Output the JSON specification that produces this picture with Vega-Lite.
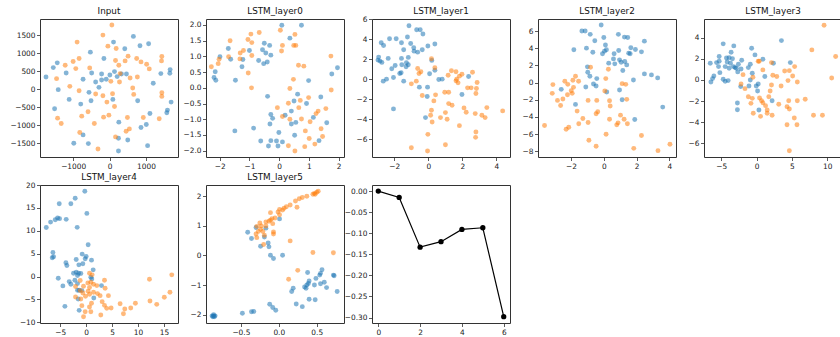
{
"$schema": "https://vega.github.io/schema/vega-lite/v6.json",
"background": "white",
"padding": {"left": 9, "top": 6, "right": 5, "bottom": 5},
"bounds": "flush",
"columns": 5,
"spacing": {"row": 28, "column": 28},
"config": {
  "view": {"stroke": "#333", "strokeWidth": 1, "continuousWidth": 138, "continuousHeight": 138},
  "axis": {"grid": false, "domain": false, "tickColor": "#333", "tickSize": 3.5, "tickWidth": 0.8, "labelFont": "DejaVu Sans", "labelFontSize": 7.4, "labelColor": "#222", "labelPadding": 1.5, "title": null, "labelFlush": false, "labelOverlap": false},
  "title": {"font": "DejaVu Sans", "fontSize": 8.8, "fontWeight": "normal", "color": "#111", "offset": 3, "frame": "group"},
  "circle": {"size": 24, "opacity": 0.55}
},
"datasets": {
"input": [
{"x":655,"y":1471,"c":"b"},{"x":109,"y":1313,"c":"b"},{"x":1073,"y":1266,"c":"b"},{"x":836,"y":1210,"c":"b"},{"x":418,"y":1127,"c":"b"},{"x":-527,"y":1034,"c":"b"},{"x":-155,"y":857,"c":"b"},{"x":-1436,"y":736,"c":"b"},{"x":-1545,"y":605,"c":"b"},{"x":-1191,"y":456,"c":"b"},{"x":-491,"y":456,"c":"b"},{"x":-218,"y":428,"c":"b"},{"x":136,"y":493,"c":"b"},{"x":9,"y":400,"c":"b"},{"x":209,"y":354,"c":"b"},{"x":327,"y":428,"c":"b"},{"x":464,"y":428,"c":"b"},{"x":1409,"y":438,"c":"b"},{"x":1664,"y":549,"c":"b"},{"x":1655,"y":447,"c":"b"},{"x":-1745,"y":345,"c":"b"},{"x":-727,"y":279,"c":"b"},{"x":-382,"y":205,"c":"b"},{"x":-218,"y":261,"c":"b"},{"x":-91,"y":279,"c":"b"},{"x":-291,"y":56,"c":"b"},{"x":1200,"y":168,"c":"b"},{"x":-1409,"y":-9,"c":"b"},{"x":-564,"y":-84,"c":"b"},{"x":-1109,"y":-279,"c":"b"},{"x":-509,"y":-317,"c":"b"},{"x":91,"y":-279,"c":"b"},{"x":773,"y":-317,"c":"b"},{"x":1691,"y":-354,"c":"b"},{"x":-791,"y":-410,"c":"b"},{"x":-1509,"y":-540,"c":"b"},{"x":1591,"y":-577,"c":"b"},{"x":1573,"y":-652,"c":"b"},{"x":1109,"y":-670,"c":"b"},{"x":255,"y":-912,"c":"b"},{"x":1009,"y":-978,"c":"b"},{"x":864,"y":-1061,"c":"b"},{"x":-727,"y":-1266,"c":"b"},{"x":245,"y":-1359,"c":"b"},{"x":500,"y":-1406,"c":"b"},{"x":-982,"y":-1499,"c":"b"},{"x":-582,"y":-1508,"c":"b"},{"x":1045,"y":-1564,"c":"b"},{"x":245,"y":-1713,"c":"b"},
{"x":64,"y":1788,"c":"o"},{"x":-182,"y":1508,"c":"o"},{"x":-891,"y":1313,"c":"o"},{"x":-45,"y":1201,"c":"o"},{"x":182,"y":1136,"c":"o"},{"x":509,"y":922,"c":"o"},{"x":-836,"y":857,"c":"o"},{"x":-1000,"y":773,"c":"o"},{"x":-1218,"y":670,"c":"o"},{"x":164,"y":801,"c":"o"},{"x":427,"y":791,"c":"o"},{"x":745,"y":857,"c":"o"},{"x":864,"y":763,"c":"o"},{"x":1018,"y":698,"c":"o"},{"x":1091,"y":568,"c":"o"},{"x":1436,"y":912,"c":"o"},{"x":1427,"y":791,"c":"o"},{"x":-927,"y":577,"c":"o"},{"x":-545,"y":596,"c":"o"},{"x":255,"y":670,"c":"o"},{"x":291,"y":438,"c":"o"},{"x":564,"y":317,"c":"o"},{"x":764,"y":345,"c":"o"},{"x":-1455,"y":298,"c":"o"},{"x":36,"y":223,"c":"o"},{"x":273,"y":205,"c":"o"},{"x":-1091,"y":84,"c":"o"},{"x":-836,"y":-37,"c":"o"},{"x":636,"y":37,"c":"o"},{"x":664,"y":-140,"c":"o"},{"x":82,"y":-121,"c":"o"},{"x":-182,"y":-177,"c":"o"},{"x":-382,"y":-130,"c":"o"},{"x":1436,"y":-93,"c":"o"},{"x":1436,"y":-196,"c":"o"},{"x":-73,"y":-354,"c":"o"},{"x":136,"y":-475,"c":"o"},{"x":-591,"y":-624,"c":"o"},{"x":-764,"y":-745,"c":"o"},{"x":-164,"y":-773,"c":"o"},{"x":-18,"y":-717,"c":"o"},{"x":491,"y":-782,"c":"o"},{"x":927,"y":-782,"c":"o"},{"x":1364,"y":-819,"c":"o"},{"x":-1427,"y":-801,"c":"o"},{"x":-1327,"y":-950,"c":"o"},{"x":-418,"y":-950,"c":"o"},{"x":545,"y":-1099,"c":"o"},{"x":455,"y":-1164,"c":"o"},{"x":-818,"y":-1201,"c":"o"},{"x":164,"y":-1322,"c":"o"},{"x":-318,"y":-1657,"c":"o"}
],
"l0": [
{"x":0.09,"y":1.99,"c":"b"},{"x":0.75,"y":1.99,"c":"b"},{"x":0.36,"y":1.58,"c":"b"},{"x":-0.5,"y":1.42,"c":"b"},{"x":-0.32,"y":1.35,"c":"b"},{"x":-1.71,"y":1.25,"c":"b"},{"x":-1.0,"y":1.19,"c":"b"},{"x":-0.56,"y":1.21,"c":"b"},{"x":-0.45,"y":1.11,"c":"b"},{"x":-1.99,"y":0.99,"c":"b"},{"x":-1.63,"y":0.91,"c":"b"},{"x":-1.22,"y":0.9,"c":"b"},{"x":-0.28,"y":1.04,"c":"b"},{"x":-0.69,"y":0.87,"c":"b"},{"x":-0.4,"y":0.82,"c":"b"},{"x":-0.52,"y":0.77,"c":"b"},{"x":-1.25,"y":0.67,"c":"b"},{"x":-2.15,"y":0.51,"c":"b"},{"x":-2.19,"y":0.33,"c":"b"},{"x":-2.13,"y":0.24,"c":"b"},{"x":-1.47,"y":0.24,"c":"b"},{"x":1.96,"y":0.64,"c":"b"},{"x":1.77,"y":0.44,"c":"b"},{"x":0.99,"y":0.23,"c":"b"},{"x":-0.39,"y":-0.27,"c":"b"},{"x":0.62,"y":-0.2,"c":"b"},{"x":0.5,"y":-0.42,"c":"b"},{"x":1.4,"y":-0.29,"c":"b"},{"x":0.92,"y":-0.5,"c":"b"},{"x":0.41,"y":-0.74,"c":"b"},{"x":-0.28,"y":-0.85,"c":"b"},{"x":-0.22,"y":-0.97,"c":"b"},{"x":0.2,"y":-0.87,"c":"b"},{"x":1.15,"y":-0.94,"c":"b"},{"x":0.56,"y":-1.1,"c":"b"},{"x":0.41,"y":-1.15,"c":"b"},{"x":-0.31,"y":-1.15,"c":"b"},{"x":1.6,"y":-1.11,"c":"b"},{"x":-0.86,"y":-1.28,"c":"b"},{"x":-1.49,"y":-1.37,"c":"b"},{"x":-0.01,"y":-1.42,"c":"b"},{"x":0.52,"y":-1.51,"c":"b"},{"x":-0.62,"y":-1.69,"c":"b"},{"x":-0.28,"y":-1.68,"c":"b"},{"x":-0.09,"y":-1.69,"c":"b"},{"x":0.11,"y":-1.72,"c":"b"},{"x":1.34,"y":-1.68,"c":"b"},{"x":-0.36,"y":-1.85,"c":"b"},{"x":-0.04,"y":-1.85,"c":"b"},
{"x":0.04,"y":1.83,"c":"o"},{"x":-0.67,"y":1.76,"c":"o"},{"x":-0.95,"y":1.71,"c":"o"},{"x":0.53,"y":1.7,"c":"o"},{"x":-1.05,"y":1.54,"c":"o"},{"x":-0.92,"y":1.44,"c":"o"},{"x":-1.65,"y":1.5,"c":"o"},{"x":0.11,"y":1.35,"c":"o"},{"x":0.49,"y":1.35,"c":"o"},{"x":0.56,"y":1.35,"c":"o"},{"x":0.08,"y":1.17,"c":"o"},{"x":-1.2,"y":1.19,"c":"o"},{"x":-1.31,"y":1.11,"c":"o"},{"x":-0.92,"y":1.03,"c":"o"},{"x":-1.7,"y":0.99,"c":"o"},{"x":-1.32,"y":0.92,"c":"o"},{"x":-2.02,"y":0.91,"c":"o"},{"x":-2.05,"y":0.77,"c":"o"},{"x":-2.28,"y":0.67,"c":"o"},{"x":1.74,"y":1.01,"c":"o"},{"x":0.65,"y":0.72,"c":"o"},{"x":0.83,"y":0.69,"c":"o"},{"x":-1.04,"y":0.47,"c":"o"},{"x":0.48,"y":0.27,"c":"o"},{"x":-0.93,"y":0.0,"c":"o"},{"x":1.75,"y":-0.07,"c":"o"},{"x":0.36,"y":-0.02,"c":"o"},{"x":0.71,"y":-0.4,"c":"o"},{"x":0.99,"y":-0.31,"c":"o"},{"x":0.31,"y":-0.49,"c":"o"},{"x":-0.06,"y":-0.63,"c":"o"},{"x":0.66,"y":-0.63,"c":"o"},{"x":1.57,"y":-0.66,"c":"o"},{"x":1.31,"y":-0.74,"c":"o"},{"x":1.24,"y":-0.82,"c":"o"},{"x":0.11,"y":-0.91,"c":"o"},{"x":0.36,"y":-1.0,"c":"o"},{"x":0.75,"y":-0.99,"c":"o"},{"x":1.04,"y":-1.08,"c":"o"},{"x":1.41,"y":-1.3,"c":"o"},{"x":0.88,"y":-1.37,"c":"o"},{"x":1.01,"y":-1.61,"c":"o"},{"x":1.46,"y":-1.55,"c":"o"},{"x":1.2,"y":-1.79,"c":"o"},{"x":0.31,"y":-1.84,"c":"o"},{"x":0.86,"y":-1.87,"c":"o"},{"x":0.53,"y":-2.01,"c":"o"}
],
"l1": [
{"x":-1.13,"y":5.36,"c":"b"},{"x":-0.68,"y":4.96,"c":"b"},{"x":-0.47,"y":4.96,"c":"b"},{"x":-0.31,"y":4.52,"c":"b"},{"x":-2.27,"y":4.05,"c":"b"},{"x":-1.88,"y":4.05,"c":"b"},{"x":-1.22,"y":4.22,"c":"b"},{"x":-2.76,"y":3.65,"c":"b"},{"x":-2.62,"y":3.38,"c":"b"},{"x":-1.57,"y":3.65,"c":"b"},{"x":-1.03,"y":3.58,"c":"b"},{"x":-0.02,"y":3.32,"c":"b"},{"x":0.39,"y":3.52,"c":"b"},{"x":-1.44,"y":2.95,"c":"b"},{"x":-0.85,"y":3.15,"c":"b"},{"x":-0.83,"y":2.81,"c":"b"},{"x":-0.62,"y":2.71,"c":"b"},{"x":-0.35,"y":2.95,"c":"b"},{"x":-2.91,"y":2.21,"c":"b"},{"x":-2.95,"y":1.91,"c":"b"},{"x":-2.83,"y":1.81,"c":"b"},{"x":-2.72,"y":1.68,"c":"b"},{"x":-2.35,"y":2.08,"c":"b"},{"x":-1.57,"y":2.08,"c":"b"},{"x":-1.17,"y":2.18,"c":"b"},{"x":-1.28,"y":1.64,"c":"b"},{"x":-1.17,"y":1.44,"c":"b"},{"x":-1.3,"y":1.24,"c":"b"},{"x":-1.94,"y":1.37,"c":"b"},{"x":-2.14,"y":1.04,"c":"b"},{"x":-1.55,"y":1.44,"c":"b"},{"x":-1.67,"y":0.57,"c":"b"},{"x":-1.59,"y":0.64,"c":"b"},{"x":-2.04,"y":0.17,"c":"b"},{"x":-2.45,"y":0.0,"c":"b"},{"x":-2.64,"y":-0.2,"c":"b"},{"x":-1.44,"y":-0.2,"c":"b"},{"x":0.21,"y":1.88,"c":"b"},{"x":0.08,"y":0.54,"c":"b"},{"x":0.39,"y":0.9,"c":"b"},{"x":0.62,"y":-0.03,"c":"b"},{"x":0.82,"y":0.0,"c":"b"},{"x":2.37,"y":0.27,"c":"b"},{"x":-0.52,"y":-0.8,"c":"b"},{"x":-0.04,"y":-0.8,"c":"b"},{"x":-0.06,"y":-1.74,"c":"b"},{"x":1.98,"y":-1.54,"c":"b"},{"x":-2.04,"y":-2.98,"c":"b"},{"x":-0.16,"y":-3.85,"c":"b"},
{"x":0.19,"y":2.04,"c":"o"},{"x":0.39,"y":1.14,"c":"o"},{"x":-0.62,"y":1.07,"c":"o"},{"x":-0.43,"y":0.74,"c":"o"},{"x":-0.54,"y":0.57,"c":"o"},{"x":1.36,"y":0.84,"c":"o"},{"x":1.63,"y":0.74,"c":"o"},{"x":2.6,"y":0.7,"c":"o"},{"x":1.98,"y":0.5,"c":"o"},{"x":1.83,"y":0.3,"c":"o"},{"x":1.17,"y":0.4,"c":"o"},{"x":1.67,"y":0.0,"c":"o"},{"x":1.63,"y":-0.17,"c":"o"},{"x":1.75,"y":-0.37,"c":"o"},{"x":-0.7,"y":-0.2,"c":"o"},{"x":-0.99,"y":-0.47,"c":"o"},{"x":2.87,"y":-0.34,"c":"o"},{"x":2.31,"y":-0.87,"c":"o"},{"x":2.52,"y":-0.87,"c":"o"},{"x":2.83,"y":-0.94,"c":"o"},{"x":2.8,"y":-1.44,"c":"o"},{"x":0.97,"y":-1.31,"c":"o"},{"x":1.2,"y":-1.31,"c":"o"},{"x":0.43,"y":-1.57,"c":"o"},{"x":-0.35,"y":-1.64,"c":"o"},{"x":0.33,"y":-2.18,"c":"o"},{"x":1.2,"y":-2.45,"c":"o"},{"x":1.4,"y":-2.61,"c":"o"},{"x":2.1,"y":-2.88,"c":"o"},{"x":2.23,"y":-3.32,"c":"o"},{"x":0.19,"y":-3.12,"c":"o"},{"x":0.14,"y":-3.62,"c":"o"},{"x":0.23,"y":-4.29,"c":"o"},{"x":0.72,"y":-3.85,"c":"o"},{"x":1.01,"y":-3.35,"c":"o"},{"x":1.11,"y":-4.02,"c":"o"},{"x":2.76,"y":-3.45,"c":"o"},{"x":3.15,"y":-3.62,"c":"o"},{"x":3.34,"y":-3.85,"c":"o"},{"x":3.44,"y":-2.85,"c":"o"},{"x":4.37,"y":-3.18,"c":"o"},{"x":1.83,"y":-4.66,"c":"o"},{"x":2.8,"y":-5.29,"c":"o"},{"x":2.78,"y":-5.83,"c":"o"},{"x":-0.02,"y":-5.53,"c":"o"},{"x":-0.99,"y":-6.87,"c":"o"},{"x":1.01,"y":-6.57,"c":"o"},{"x":-0.04,"y":-7.2,"c":"o"}
],
"l2": [
{"x":-0.16,"y":6.72,"c":"b"},{"x":-1.34,"y":6.02,"c":"b"},{"x":-1.14,"y":6.02,"c":"b"},{"x":-0.83,"y":5.63,"c":"b"},{"x":0.89,"y":5.63,"c":"b"},{"x":0.0,"y":5.27,"c":"b"},{"x":1.26,"y":5.31,"c":"b"},{"x":1.46,"y":5.27,"c":"b"},{"x":-0.55,"y":4.88,"c":"b"},{"x":2.48,"y":4.84,"c":"b"},{"x":-1.06,"y":4.02,"c":"b"},{"x":-1.83,"y":3.83,"c":"b"},{"x":0.1,"y":4.38,"c":"b"},{"x":0.16,"y":3.83,"c":"b"},{"x":0.04,"y":3.67,"c":"b"},{"x":-0.08,"y":3.36,"c":"b"},{"x":-0.67,"y":3.55,"c":"b"},{"x":0.91,"y":3.75,"c":"b"},{"x":1.65,"y":4.06,"c":"b"},{"x":1.93,"y":3.87,"c":"b"},{"x":1.52,"y":3.44,"c":"b"},{"x":1.61,"y":3.36,"c":"b"},{"x":2.3,"y":3.59,"c":"b"},{"x":0.63,"y":3.36,"c":"b"},{"x":0.59,"y":2.77,"c":"b"},{"x":0.3,"y":2.27,"c":"b"},{"x":0.67,"y":2.19,"c":"b"},{"x":0.96,"y":2.66,"c":"b"},{"x":1.06,"y":2.38,"c":"b"},{"x":1.28,"y":2.46,"c":"b"},{"x":1.4,"y":2.07,"c":"b"},{"x":1.16,"y":1.41,"c":"b"},{"x":-1.0,"y":1.84,"c":"b"},{"x":-0.98,"y":1.21,"c":"b"},{"x":1.81,"y":0.31,"c":"b"},{"x":2.48,"y":1.02,"c":"b"},{"x":2.91,"y":0.9,"c":"b"},{"x":3.29,"y":0.55,"c":"b"},{"x":-0.43,"y":0.47,"c":"b"},{"x":-0.85,"y":0.74,"c":"b"},{"x":-0.63,"y":-0.16,"c":"b"},{"x":-0.47,"y":-0.39,"c":"b"},{"x":-1.1,"y":-0.51,"c":"b"},{"x":-2.6,"y":-0.78,"c":"b"},{"x":0.18,"y":-1.09,"c":"b"},{"x":0.96,"y":-0.86,"c":"b"},{"x":1.12,"y":-1.99,"c":"b"},{"x":-1.73,"y":-2.54,"c":"b"},{"x":3.6,"y":-2.85,"c":"b"},{"x":1.89,"y":-4.3,"c":"b"},
{"x":0.28,"y":1.56,"c":"o"},{"x":-0.81,"y":1.8,"c":"o"},{"x":-1.73,"y":0.74,"c":"o"},{"x":-1.89,"y":0.27,"c":"o"},{"x":-1.54,"y":0.16,"c":"o"},{"x":-2.38,"y":0.16,"c":"o"},{"x":-2.2,"y":-0.2,"c":"o"},{"x":-3.11,"y":-0.23,"c":"o"},{"x":-1.85,"y":-0.55,"c":"o"},{"x":-1.99,"y":-0.94,"c":"o"},{"x":-1.93,"y":-1.25,"c":"o"},{"x":-2.22,"y":-1.41,"c":"o"},{"x":-3.15,"y":-1.25,"c":"o"},{"x":-2.5,"y":-1.91,"c":"o"},{"x":-2.83,"y":-2.07,"c":"o"},{"x":-2.64,"y":-2.66,"c":"o"},{"x":0.12,"y":0.47,"c":"o"},{"x":1.12,"y":-0.12,"c":"o"},{"x":1.34,"y":-0.2,"c":"o"},{"x":0.06,"y":-0.98,"c":"o"},{"x":-0.96,"y":-2.07,"c":"o"},{"x":-0.43,"y":-2.07,"c":"o"},{"x":0.35,"y":-2.11,"c":"o"},{"x":0.39,"y":-2.73,"c":"o"},{"x":1.4,"y":-1.95,"c":"o"},{"x":-1.63,"y":-3.32,"c":"o"},{"x":-0.37,"y":-3.4,"c":"o"},{"x":-0.47,"y":-3.63,"c":"o"},{"x":-1.28,"y":-4.18,"c":"o"},{"x":0.35,"y":-4.26,"c":"o"},{"x":-1.53,"y":-4.8,"c":"o"},{"x":-0.96,"y":-4.65,"c":"o"},{"x":1.02,"y":-3.79,"c":"o"},{"x":1.24,"y":-4.26,"c":"o"},{"x":0.87,"y":-4.69,"c":"o"},{"x":0.79,"y":-4.92,"c":"o"},{"x":1.44,"y":-4.8,"c":"o"},{"x":-2.14,"y":-5.2,"c":"o"},{"x":-2.3,"y":-5.43,"c":"o"},{"x":-3.62,"y":-5.0,"c":"o"},{"x":0.14,"y":-6.02,"c":"o"},{"x":2.3,"y":-6.17,"c":"o"},{"x":-0.91,"y":-6.72,"c":"o"},{"x":-0.47,"y":-7.42,"c":"o"},{"x":1.83,"y":-7.66,"c":"o"},{"x":3.31,"y":-7.93,"c":"o"},{"x":4.04,"y":-7.19,"c":"o"}
],
"l3": [
{"x":-4.73,"y":3.41,"c":"b"},{"x":-3.23,"y":3.22,"c":"b"},{"x":3.52,"y":3.72,"c":"b"},{"x":-0.7,"y":3.0,"c":"b"},{"x":-3.61,"y":2.62,"c":"b"},{"x":-5.3,"y":2.21,"c":"b"},{"x":-4.27,"y":2.08,"c":"b"},{"x":-3.89,"y":2.11,"c":"b"},{"x":-3.42,"y":2.0,"c":"b"},{"x":-2.11,"y":1.86,"c":"b"},{"x":-0.23,"y":2.37,"c":"b"},{"x":-6.56,"y":1.58,"c":"b"},{"x":-5.67,"y":1.64,"c":"b"},{"x":-5.3,"y":1.77,"c":"b"},{"x":-4.17,"y":1.7,"c":"b"},{"x":-3.7,"y":1.58,"c":"b"},{"x":-2.58,"y":1.48,"c":"b"},{"x":-0.89,"y":1.48,"c":"b"},{"x":0.89,"y":1.96,"c":"b"},{"x":2.39,"y":1.58,"c":"b"},{"x":4.78,"y":1.64,"c":"b"},{"x":-5.39,"y":1.26,"c":"b"},{"x":-4.45,"y":1.26,"c":"b"},{"x":-3.89,"y":1.1,"c":"b"},{"x":-3.28,"y":1.26,"c":"b"},{"x":-3.05,"y":1.17,"c":"b"},{"x":-2.86,"y":1.1,"c":"b"},{"x":-2.2,"y":1.04,"c":"b"},{"x":-1.17,"y":1.17,"c":"b"},{"x":-2.67,"y":0.76,"c":"b"},{"x":-5.2,"y":0.69,"c":"b"},{"x":-4.73,"y":0.06,"c":"b"},{"x":-4.45,"y":-0.13,"c":"b"},{"x":-4.03,"y":-0.06,"c":"b"},{"x":-6.05,"y":0.38,"c":"b"},{"x":-6.23,"y":0.13,"c":"b"},{"x":-6.47,"y":-0.19,"c":"b"},{"x":-0.61,"y":0.63,"c":"b"},{"x":1.17,"y":0.32,"c":"b"},{"x":-0.89,"y":0.0,"c":"b"},{"x":-2.25,"y":-0.63,"c":"b"},{"x":-1.08,"y":-0.57,"c":"b"},{"x":-0.05,"y":-0.57,"c":"b"},{"x":0.23,"y":-0.38,"c":"b"},{"x":0.14,"y":-1.04,"c":"b"},{"x":2.2,"y":-1.96,"c":"b"},{"x":-2.72,"y":-2.18,"c":"b"},{"x":-2.72,"y":-2.81,"c":"b"},{"x":0.33,"y":-2.84,"c":"b"},
{"x":9.56,"y":5.17,"c":"o"},{"x":7.83,"y":2.84,"c":"o"},{"x":11.2,"y":2.21,"c":"o"},{"x":0.23,"y":1.77,"c":"o"},{"x":0.37,"y":1.77,"c":"o"},{"x":2.11,"y":1.64,"c":"o"},{"x":5.39,"y":1.26,"c":"o"},{"x":3.98,"y":0.85,"c":"o"},{"x":4.64,"y":0.88,"c":"o"},{"x":-1.92,"y":0.5,"c":"o"},{"x":0.89,"y":0.95,"c":"o"},{"x":2.3,"y":0.44,"c":"o"},{"x":2.86,"y":0.32,"c":"o"},{"x":4.45,"y":-0.06,"c":"o"},{"x":5.11,"y":0.38,"c":"o"},{"x":-2.2,"y":-0.38,"c":"o"},{"x":-0.52,"y":0.25,"c":"o"},{"x":2.11,"y":-0.47,"c":"o"},{"x":3.47,"y":-0.57,"c":"o"},{"x":5.77,"y":-0.19,"c":"o"},{"x":10.64,"y":0.19,"c":"o"},{"x":-1.64,"y":-0.82,"c":"o"},{"x":1.92,"y":-1.04,"c":"o"},{"x":-1.17,"y":-1.58,"c":"o"},{"x":-0.61,"y":-1.74,"c":"o"},{"x":0.42,"y":-1.7,"c":"o"},{"x":0.7,"y":-1.96,"c":"o"},{"x":1.73,"y":-1.58,"c":"o"},{"x":4.55,"y":-1.96,"c":"o"},{"x":5.77,"y":-1.96,"c":"o"},{"x":6.89,"y":-1.83,"c":"o"},{"x":-0.8,"y":-2.21,"c":"o"},{"x":0.89,"y":-2.15,"c":"o"},{"x":1.27,"y":-2.43,"c":"o"},{"x":3.14,"y":-2.3,"c":"o"},{"x":4.31,"y":-2.52,"c":"o"},{"x":4.64,"y":-2.74,"c":"o"},{"x":1.5,"y":-2.84,"c":"o"},{"x":-0.47,"y":-3.15,"c":"o"},{"x":0.56,"y":-3.44,"c":"o"},{"x":1.5,"y":-3.15,"c":"o"},{"x":2.2,"y":-3.34,"c":"o"},{"x":8.06,"y":-3.34,"c":"o"},{"x":9.33,"y":-3.34,"c":"o"},{"x":5.34,"y":-3.6,"c":"o"},{"x":4.31,"y":-4.23,"c":"o"},{"x":5.72,"y":-4.23,"c":"o"},{"x":4.64,"y":-6.69,"c":"o"}
],
"l4": [
{"x":-0.26,"y":18.65,"c":"b"},{"x":-2.12,"y":17.1,"c":"b"},{"x":-2.95,"y":15.9,"c":"b"},{"x":-5.19,"y":15.9,"c":"b"},{"x":0.13,"y":13.8,"c":"b"},{"x":-5.51,"y":12.8,"c":"b"},{"x":-5.13,"y":12.65,"c":"b"},{"x":-5.96,"y":12.4,"c":"b"},{"x":-3.85,"y":12.5,"c":"b"},{"x":-6.86,"y":11.9,"c":"b"},{"x":-7.69,"y":10.7,"c":"b"},{"x":-1.73,"y":10.75,"c":"b"},{"x":0.38,"y":6.95,"c":"b"},{"x":-6.41,"y":5.27,"c":"b"},{"x":-6.28,"y":4.32,"c":"b"},{"x":-6.54,"y":4.1,"c":"b"},{"x":-0.77,"y":4.9,"c":"b"},{"x":0.0,"y":4.39,"c":"b"},{"x":-0.19,"y":3.88,"c":"b"},{"x":-1.92,"y":3.73,"c":"b"},{"x":1.03,"y":3.58,"c":"b"},{"x":-3.91,"y":3.0,"c":"b"},{"x":-3.72,"y":2.41,"c":"b"},{"x":-1.41,"y":2.56,"c":"b"},{"x":-0.64,"y":2.78,"c":"b"},{"x":1.35,"y":1.46,"c":"b"},{"x":-2.44,"y":0.73,"c":"b"},{"x":-1.92,"y":0.95,"c":"b"},{"x":-1.47,"y":0.73,"c":"b"},{"x":-1.03,"y":0.66,"c":"b"},{"x":-1.67,"y":0.22,"c":"b"},{"x":0.9,"y":-0.15,"c":"b"},{"x":1.09,"y":-0.51,"c":"b"},{"x":-5.38,"y":-0.37,"c":"b"},{"x":-2.18,"y":-0.8,"c":"b"},{"x":-3.27,"y":-1.1,"c":"b"},{"x":-4.49,"y":-2.05,"c":"b"},{"x":-2.95,"y":-1.68,"c":"b"},{"x":-1.67,"y":-1.54,"c":"b"},{"x":2.95,"y":-1.98,"c":"b"},{"x":-1.35,"y":-3.0,"c":"b"},{"x":-0.83,"y":-3.07,"c":"b"},{"x":-1.67,"y":-3.0,"c":"b"},{"x":1.47,"y":-4.68,"c":"b"},{"x":-1.54,"y":-4.9,"c":"b"},{"x":-4.1,"y":-6.51,"c":"b"},{"x":-1.35,"y":-7.39,"c":"b"},
{"x":0.64,"y":0.73,"c":"o"},{"x":1.15,"y":0.37,"c":"o"},{"x":3.53,"y":-0.8,"c":"o"},{"x":16.5,"y":0.37,"c":"o"},{"x":12.2,"y":-0.59,"c":"o"},{"x":-1.15,"y":-0.88,"c":"o"},{"x":0.32,"y":-1.39,"c":"o"},{"x":0.9,"y":-1.24,"c":"o"},{"x":1.41,"y":-1.68,"c":"o"},{"x":2.05,"y":-1.98,"c":"o"},{"x":-0.51,"y":-2.12,"c":"o"},{"x":-2.05,"y":-2.19,"c":"o"},{"x":3.65,"y":-2.56,"c":"o"},{"x":-1.15,"y":-3.07,"c":"o"},{"x":0.38,"y":-3.22,"c":"o"},{"x":1.41,"y":-3.44,"c":"o"},{"x":-0.64,"y":-3.58,"c":"o"},{"x":2.18,"y":-3.73,"c":"o"},{"x":2.69,"y":-4.17,"c":"o"},{"x":4.29,"y":-4.17,"c":"o"},{"x":-2.05,"y":-4.46,"c":"o"},{"x":-0.13,"y":-4.32,"c":"o"},{"x":0.64,"y":-3.88,"c":"o"},{"x":-1.03,"y":-4.9,"c":"o"},{"x":3.08,"y":-5.49,"c":"o"},{"x":12.3,"y":-5.34,"c":"o"},{"x":16.15,"y":-3.44,"c":"o"},{"x":15.06,"y":-4.54,"c":"o"},{"x":13.6,"y":-6.07,"c":"o"},{"x":9.49,"y":-5.85,"c":"o"},{"x":6.54,"y":-5.93,"c":"o"},{"x":1.03,"y":-5.85,"c":"o"},{"x":-0.83,"y":-6.36,"c":"o"},{"x":3.53,"y":-6.29,"c":"o"},{"x":3.97,"y":-6.95,"c":"o"},{"x":4.81,"y":-6.88,"c":"o"},{"x":0.64,"y":-6.66,"c":"o"},{"x":8.59,"y":-6.88,"c":"o"},{"x":7.44,"y":-7.1,"c":"o"},{"x":7.18,"y":-8.12,"c":"o"},{"x":-0.19,"y":-7.68,"c":"o"},{"x":0.9,"y":-7.68,"c":"o"},{"x":2.82,"y":-8.41,"c":"o"},{"x":-0.51,"y":-8.78,"c":"o"},{"x":0.64,"y":-2.41,"c":"o"}
],
"l5": [
{"x":0.01,"y":1.23,"c":"b"},{"x":-0.3,"y":0.94,"c":"b"},{"x":-0.41,"y":0.78,"c":"b"},{"x":-0.36,"y":0.57,"c":"b"},{"x":-0.17,"y":0.92,"c":"b"},{"x":-0.19,"y":0.62,"c":"b"},{"x":-0.24,"y":0.31,"c":"b"},{"x":-0.14,"y":0.42,"c":"b"},{"x":-0.13,"y":0.29,"c":"b"},{"x":-0.11,"y":0.01,"c":"b"},{"x":-0.07,"y":-0.1,"c":"b"},{"x":0.05,"y":0.01,"c":"b"},{"x":0.38,"y":-0.57,"c":"b"},{"x":0.57,"y":-0.48,"c":"b"},{"x":0.55,"y":-0.6,"c":"b"},{"x":0.54,"y":-0.66,"c":"b"},{"x":0.49,"y":-0.77,"c":"b"},{"x":0.4,"y":-0.86,"c":"b"},{"x":0.39,"y":-0.94,"c":"b"},{"x":0.37,"y":-0.99,"c":"b"},{"x":0.47,"y":-0.99,"c":"b"},{"x":0.6,"y":-0.9,"c":"b"},{"x":0.55,"y":-0.95,"c":"b"},{"x":0.36,"y":-1.1,"c":"b"},{"x":0.34,"y":-1.06,"c":"b"},{"x":0.19,"y":-1.1,"c":"b"},{"x":0.17,"y":-1.21,"c":"b"},{"x":0.63,"y":-1.08,"c":"b"},{"x":0.72,"y":-0.66,"c":"b"},{"x":0.73,"y":-0.68,"c":"b"},{"x":0.77,"y":-1.21,"c":"b"},{"x":0.4,"y":-1.47,"c":"b"},{"x":0.48,"y":-1.49,"c":"b"},{"x":0.23,"y":-1.63,"c":"b"},{"x":0.31,"y":-1.72,"c":"b"},{"x":-0.12,"y":-1.64,"c":"b"},{"x":-0.08,"y":-1.75,"c":"b"},{"x":-0.04,"y":-1.84,"c":"b"},{"x":-0.33,"y":-1.88,"c":"b"},{"x":-0.36,"y":-1.89,"c":"b"},{"x":-0.48,"y":-1.94,"c":"b"},{"x":-0.86,"y":-2.03,"c":"b"},{"x":-0.88,"y":-2.03,"c":"b"},{"x":-0.84,"y":-2.03,"c":"b"},{"x":-0.86,"y":-1.99,"c":"b"},{"x":-0.87,"y":-2.06,"c":"b"},{"x":-0.85,"y":-2.06,"c":"b"},
{"x":0.52,"y":2.16,"c":"o"},{"x":0.5,"y":2.13,"c":"o"},{"x":0.47,"y":2.09,"c":"o"},{"x":0.45,"y":2.06,"c":"o"},{"x":0.48,"y":2.06,"c":"o"},{"x":0.37,"y":1.99,"c":"o"},{"x":0.31,"y":1.95,"c":"o"},{"x":0.27,"y":1.91,"c":"o"},{"x":0.22,"y":1.83,"c":"o"},{"x":0.24,"y":1.62,"c":"o"},{"x":0.15,"y":1.7,"c":"o"},{"x":0.1,"y":1.64,"c":"o"},{"x":0.07,"y":1.59,"c":"o"},{"x":0.05,"y":1.53,"c":"o"},{"x":0.01,"y":1.55,"c":"o"},{"x":-0.01,"y":1.46,"c":"o"},{"x":-0.11,"y":1.44,"c":"o"},{"x":0.01,"y":1.37,"c":"o"},{"x":-0.05,"y":1.26,"c":"o"},{"x":-0.09,"y":1.24,"c":"o"},{"x":-0.11,"y":1.19,"c":"o"},{"x":-0.13,"y":1.15,"c":"o"},{"x":-0.17,"y":1.13,"c":"o"},{"x":-0.08,"y":1.07,"c":"o"},{"x":-0.25,"y":1.09,"c":"o"},{"x":-0.17,"y":0.99,"c":"o"},{"x":-0.23,"y":0.99,"c":"o"},{"x":-0.29,"y":0.98,"c":"o"},{"x":-0.24,"y":0.88,"c":"o"},{"x":-0.27,"y":0.81,"c":"o"},{"x":-0.21,"y":0.81,"c":"o"},{"x":-0.07,"y":0.79,"c":"o"},{"x":-0.07,"y":0.72,"c":"o"},{"x":-0.3,"y":0.72,"c":"o"},{"x":-0.29,"y":0.6,"c":"o"},{"x":-0.19,"y":0.68,"c":"o"},{"x":-0.2,"y":0.37,"c":"o"},{"x":0.15,"y":0.49,"c":"o"},{"x":0.45,"y":0.1,"c":"o"},{"x":0.72,"y":0.09,"c":"o"},{"x":0.25,"y":-0.5,"c":"o"},{"x":0.13,"y":-0.8,"c":"o"}
],
"line": [
{"x":0,"y":0.0},{"x":1,"y":-0.015},{"x":2,"y":-0.133},{"x":3,"y":-0.12},{"x":4,"y":-0.091},{"x":5,"y":-0.087},{"x":6,"y":-0.298}
]
},
"concat": [
{"title": {"text": "Input", "frame": "group"}, "width": 138, "height": 138, "data": {"name": "input"}, "mark": "circle",
 "encoding": {
  "x": {"field": "x", "type": "quantitative", "scale": {"domain": [-1910, 1880], "nice": false, "zero": false}, "axis": {"values": [-1000, 0, 1000], "format": "d"}},
  "y": {"field": "y", "type": "quantitative", "scale": {"domain": [-1880, 1955], "nice": false, "zero": false}, "axis": {"values": [-1500, -1000, -500, 0, 500, 1000, 1500], "format": "d"}},
  "color": {"field": "c", "type": "nominal", "scale": {"domain": ["b", "o"], "range": ["#1f77b4", "#ff7f0e"]}, "legend": null}}},
{"title": {"text": "LSTM_layer0", "frame": "group"}, "width": 138, "height": 138, "data": {"name": "l0"}, "mark": "circle",
 "encoding": {
  "x": {"field": "x", "type": "quantitative", "scale": {"domain": [-2.46, 2.18], "nice": false, "zero": false}, "axis": {"values": [-2, -1, 0, 1, 2]}},
  "y": {"field": "y", "type": "quantitative", "scale": {"domain": [-2.2, 2.19], "nice": false, "zero": false}, "axis": {"values": [-2, -1.5, -1, -0.5, 0, 0.5, 1, 1.5, 2], "format": ".1f"}},
  "color": {"field": "c", "type": "nominal", "scale": {"domain": ["b", "o"], "range": ["#1f77b4", "#ff7f0e"]}, "legend": null}}},
{"title": {"text": "LSTM_layer1", "frame": "group", "dy": 4}, "width": 138, "height": 138, "data": {"name": "l1"}, "mark": "circle",
 "encoding": {
  "x": {"field": "x", "type": "quantitative", "scale": {"domain": [-3.3, 4.8], "nice": false, "zero": false}, "axis": {"values": [-2, 0, 2, 4]}},
  "y": {"field": "y", "type": "quantitative", "scale": {"domain": [-7.8, 6.03], "nice": false, "zero": false}, "axis": {"values": [-6, -4, -2, 0, 2, 4, 6]}},
  "color": {"field": "c", "type": "nominal", "scale": {"domain": ["b", "o"], "range": ["#1f77b4", "#ff7f0e"]}, "legend": null}}},
{"title": {"text": "LSTM_layer2", "frame": "group"}, "width": 138, "height": 138, "data": {"name": "l2"}, "mark": "circle",
 "encoding": {
  "x": {"field": "x", "type": "quantitative", "scale": {"domain": [-4.02, 4.41], "nice": false, "zero": false}, "axis": {"values": [-2, 0, 2, 4]}},
  "y": {"field": "y", "type": "quantitative", "scale": {"domain": [-8.67, 7.42], "nice": false, "zero": false}, "axis": {"values": [-8, -6, -4, -2, 0, 2, 4, 6]}},
  "color": {"field": "c", "type": "nominal", "scale": {"domain": ["b", "o"], "range": ["#1f77b4", "#ff7f0e"]}, "legend": null}}},
{"title": {"text": "LSTM_layer3", "frame": "group"}, "width": 138, "height": 138, "data": {"name": "l3"}, "mark": "circle",
 "encoding": {
  "x": {"field": "x", "type": "quantitative", "scale": {"domain": [-7.45, 12.1], "nice": false, "zero": false}, "axis": {"values": [-5, 0, 5, 10]}},
  "y": {"field": "y", "type": "quantitative", "scale": {"domain": [-7.28, 5.76], "nice": false, "zero": false}, "axis": {"values": [-6, -4, -2, 0, 2, 4]}},
  "color": {"field": "c", "type": "nominal", "scale": {"domain": ["b", "o"], "range": ["#1f77b4", "#ff7f0e"]}, "legend": null}}},
{"title": {"text": "LSTM_layer4", "frame": "group", "dy": 4}, "width": 138, "height": 138, "data": {"name": "l4"}, "mark": "circle",
 "encoding": {
  "x": {"field": "x", "type": "quantitative", "scale": {"domain": [-8.9, 17.7], "nice": false, "zero": false}, "axis": {"values": [-5, 0, 5, 10, 15]}},
  "y": {"field": "y", "type": "quantitative", "scale": {"domain": [-10.15, 20.0], "nice": false, "zero": false}, "axis": {"values": [-10, -5, 0, 5, 10, 15, 20]}},
  "color": {"field": "c", "type": "nominal", "scale": {"domain": ["b", "o"], "range": ["#1f77b4", "#ff7f0e"]}, "legend": null}}},
{"title": {"text": "LSTM_layer5", "frame": "group"}, "width": 138, "height": 138, "data": {"name": "l5"}, "mark": "circle",
 "encoding": {
  "x": {"field": "x", "type": "quantitative", "scale": {"domain": [-0.96, 0.86], "nice": false, "zero": false}, "axis": {"values": [-0.5, 0, 0.5], "format": ".1f"}},
  "y": {"field": "y", "type": "quantitative", "scale": {"domain": [-2.27, 2.37], "nice": false, "zero": false}, "axis": {"values": [-2, -1, 0, 1, 2]}},
  "color": {"field": "c", "type": "nominal", "scale": {"domain": ["b", "o"], "range": ["#1f77b4", "#ff7f0e"]}, "legend": null}}},
{"width": 138, "height": 138, "data": {"name": "line"},
 "mark": {"type": "line", "color": "black", "strokeWidth": 1.2, "point": {"filled": true, "color": "black", "size": 28, "opacity": 1}},
 "encoding": {
  "x": {"field": "x", "type": "quantitative", "scale": {"domain": [-0.3, 6.3], "nice": false, "zero": false}, "axis": {"values": [0, 2, 4, 6]}},
  "y": {"field": "y", "type": "quantitative", "scale": {"domain": [-0.313, 0.0145], "nice": false, "zero": false}, "axis": {"values": [-0.3, -0.25, -0.2, -0.15, -0.1, -0.05, 0], "format": ".2f"}}}}
]
}
